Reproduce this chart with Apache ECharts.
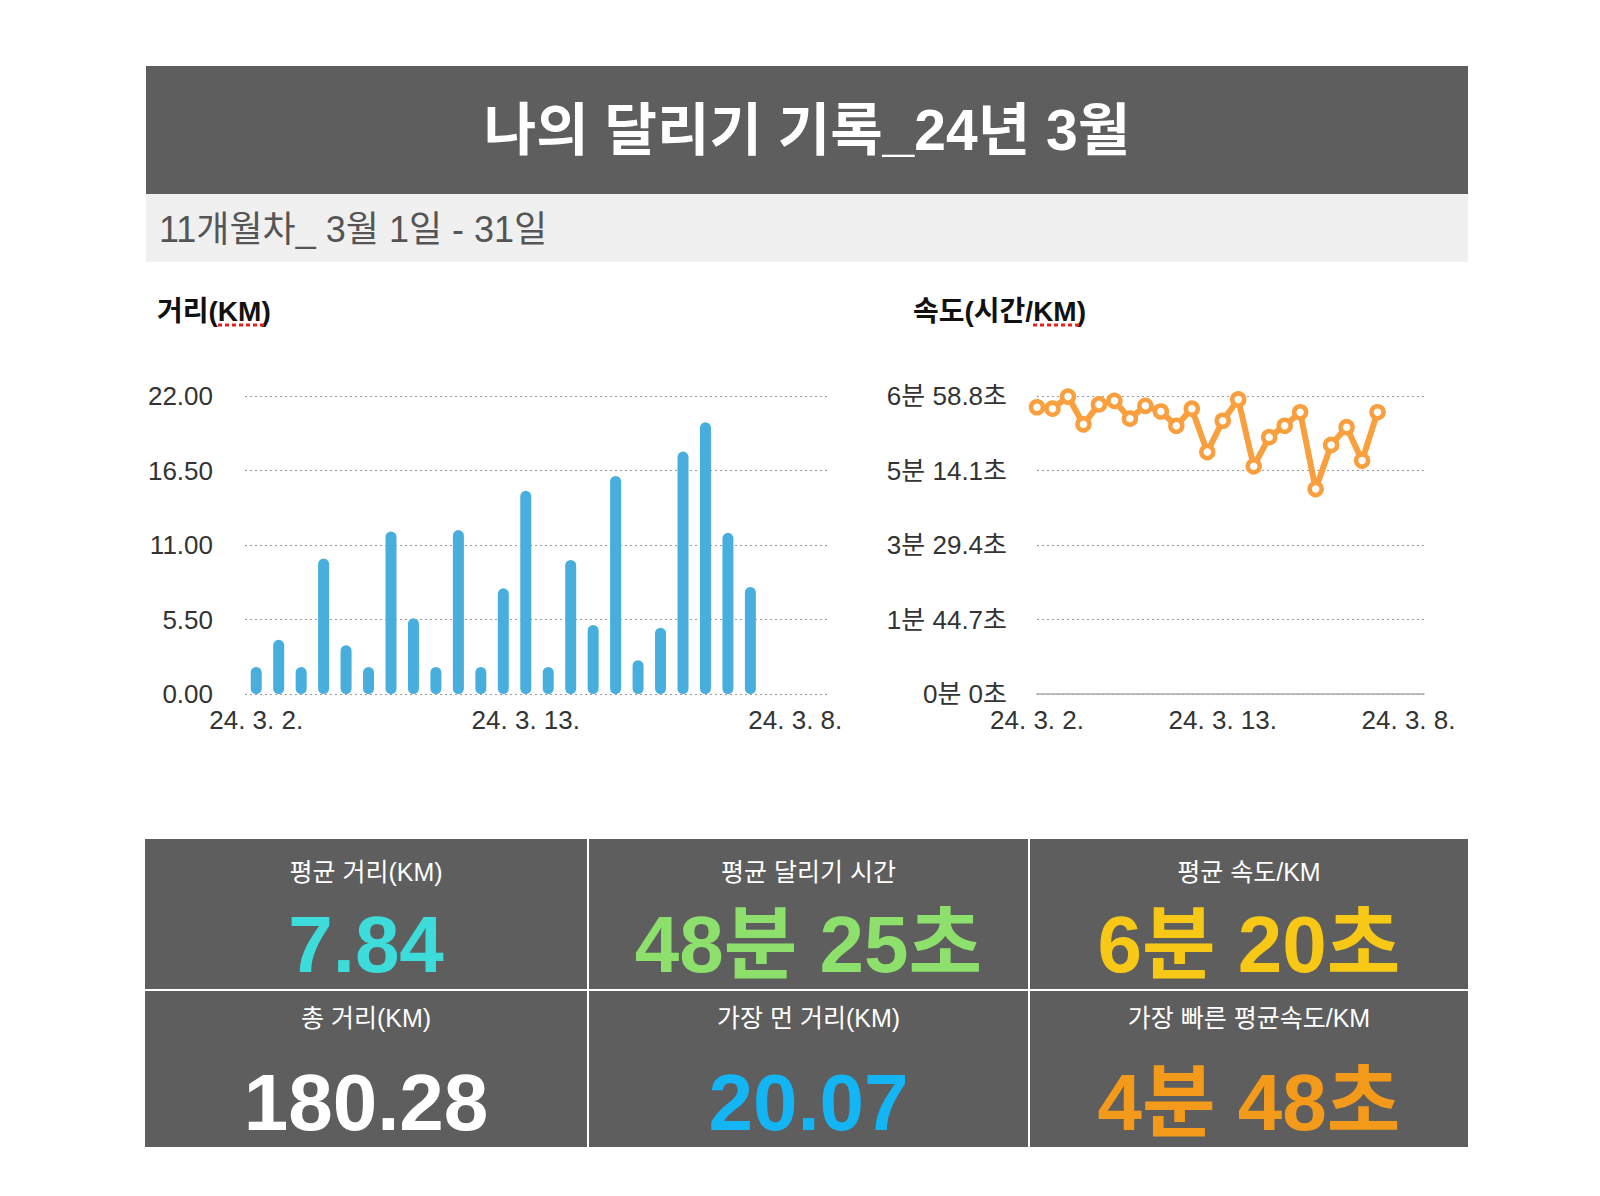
<!DOCTYPE html>
<html><head><meta charset="utf-8">
<script src="https://cdn.jsdelivr.net/npm/echarts@6/dist/echarts.min.js"></script>
<style>html,body{margin:0;padding:0;background:#fff}#c{width:1600px;height:1196px}</style>
</head><body><div id="c"></div>
<script>
// ---------- data ----------
const titleText = '나의 달리기 기록_24년 3월';
const subtitleText = '11개월차_ 3월 1일 - 31일';
const distTitle = '거리(KM)';
const paceTitle = '속도(시간/KM)';
const categories = ['24. 3. 2.','24. 3. 3.','24. 3. 4.','24. 3. 5.','24. 3. 6.','24. 3. 7.','24. 3. 9.','24. 3. 10.','24. 3. 11.','24. 3. 12.','24. 3. 14.','24. 3. 15.','24. 3. 13.','24. 3. 16.','24. 3. 17.','24. 3. 18.','24. 3. 19.','24. 3. 20.','24. 3. 21.','24. 3. 22.','24. 3. 23.','24. 3. 24.','24. 3. 25.','24. 3. 26.','24. 3. 8.','24. 3. 27.'];
const distance = [2.0,4.0,2.0,10.0,3.6,2.0,12.0,5.6,2.0,12.1,2.0,7.8,15.0,2.0,9.9,5.1,16.1,2.5,4.9,17.9,20.07,11.9,7.9,null,null,null];
// pace in seconds per km
const pace = [403,401,418,379,407,412,387,405,397,377,401,340,384,414,320,361,377,396,288,350,375,328,396,null,null,null];
const distTicks = {min:0, max:22, interval:5.5};
const paceTicks = {min:0, max:418.8, interval:104.7};
const statLabels = ['평균 거리(KM)','평균 달리기 시간','평균 속도/KM','총 거리(KM)','가장 먼 거리(KM)','가장 빠른 평균속도/KM'];
const statValues = ['7.84','48분 25초','6분 20초','180.28','20.07','4분 48초'];
const statColors = ['#3ddbd9','#8ce06b','#f7c815','#ffffff','#13b5f5','#f39a1b'];

// ---------- layout ----------
const FONT = "'Liberation Sans','Noto Sans CJK KR',sans-serif";
const chart = echarts.init(document.getElementById('c'), null, {renderer:'svg', width:1600, height:1196});

function paceFmt(v){
  const m = Math.floor(v/60 + 1e-9);
  let s = Math.round((v - m*60)*10)/10;
  return m + '분 ' + (Number.isInteger(s) ? s : s.toFixed(1)) + '초';
}

const graphics = [
  {type:'rect', shape:{x:146,y:66,width:1322,height:128}, style:{fill:'#5e5e5e'}, silent:true},
  {type:'rect', shape:{x:146,y:194,width:1322,height:68}, style:{fill:'#f0f0f0'}, silent:true},
  {type:'text', x:807, y:130, style:{text:titleText, fill:'#fff', font:'bold 57px '+FONT, textAlign:'center', textVerticalAlign:'middle'}},
  {type:'text', x:159, y:229, style:{text:subtitleText, fill:'#555', font:'36px '+FONT, textAlign:'left', textVerticalAlign:'middle'}},
  {type:'text', x:157, y:311, style:{text:distTitle, fill:'#111', font:'bold 28px '+FONT, textAlign:'left', textVerticalAlign:'middle'}},
  {type:'text', x:913, y:311, style:{text:paceTitle, fill:'#111', font:'bold 28px '+FONT, textAlign:'left', textVerticalAlign:'middle'}},
  {type:'line', shape:{x1:218,y1:325,x2:266,y2:325}, style:{stroke:'#e8201a', lineWidth:3, lineDash:[4,3]}, silent:true},
  {type:'line', shape:{x1:1033,y1:325,x2:1081,y2:325}, style:{stroke:'#e8201a', lineWidth:3, lineDash:[4,3]}, silent:true}
];
const colX = [[145,587],[589,1028],[1030,1468]];
const rowY = [[839,989],[991,1147]];
const labelY = [872,1018];
const valueY = [944,1102];
for (let i=0;i<6;i++){
  const r = Math.floor(i/3), c = i%3;
  const x0 = colX[c][0], x1 = colX[c][1], y0 = rowY[r][0], y1 = rowY[r][1];
  graphics.push({type:'rect', shape:{x:x0,y:y0,width:x1-x0,height:y1-y0}, style:{fill:'#5e5e5e'}, silent:true});
  const cx = (x0+x1)/2;
  graphics.push({type:'text', x:cx, y:labelY[r], style:{text:statLabels[i], fill:'#fff', font:'25px '+FONT, textAlign:'center', textVerticalAlign:'middle'}});
  graphics.push({type:'text', x:cx, y:valueY[r], style:{text:statValues[i], fill:statColors[i], font:'bold 80px '+FONT, textAlign:'center', textVerticalAlign:'middle'}});
}

const axisLabelStyle = {color:'#333', fontSize:26, fontFamily:FONT};
const option = {
  animation:false,
  backgroundColor:'#fff',
  grid:[
    {left:245, top:396, width:584, height:298},
    {left:1037, top:396, width:387, height:298}
  ],
  xAxis:[
    {type:'category', gridIndex:0, data:categories, boundaryGap:true,
     axisLine:{show:false}, axisTick:{show:false},
     axisLabel:Object.assign({interval:11, margin:13, hideOverlap:false}, axisLabelStyle)},
    {type:'category', gridIndex:1, data:categories, boundaryGap:false,
     axisLine:{show:true, lineStyle:{color:'#aaa', width:1.5}}, axisTick:{show:false},
     axisLabel:Object.assign({interval:11, margin:13, hideOverlap:false}, axisLabelStyle)}
  ],
  yAxis:[
    {type:'value', gridIndex:0, min:distTicks.min, max:distTicks.max, interval:distTicks.interval,
     axisLine:{show:false}, axisTick:{show:false},
     splitLine:{lineStyle:{color:'#999', type:[2,3], width:1}},
     axisLabel:Object.assign({margin:32, formatter:v=>v.toFixed(2)}, axisLabelStyle)},
    {type:'value', gridIndex:1, min:paceTicks.min, max:paceTicks.max, interval:paceTicks.interval,
     axisLine:{show:false}, axisTick:{show:false},
     splitLine:{lineStyle:{color:'#999', type:[2,3], width:1}},
     axisLabel:Object.assign({margin:30, formatter:paceFmt}, axisLabelStyle)}
  ],
  series:[
    {type:'bar', xAxisIndex:0, yAxisIndex:0, data:distance, barWidth:11,
     itemStyle:{color:'#48aedd', borderRadius:5.5}},
    {type:'line', xAxisIndex:1, yAxisIndex:1, data:pace, symbol:'circle', symbolSize:12,
     showSymbol:true, showAllSymbol:true,
     lineStyle:{color:'#f99f3d', width:6}, itemStyle:{color:'#fff', borderColor:'#f99f3d', borderWidth:4.5}}
  ],
  graphic:graphics
};
chart.setOption(option);
</script></body></html>
